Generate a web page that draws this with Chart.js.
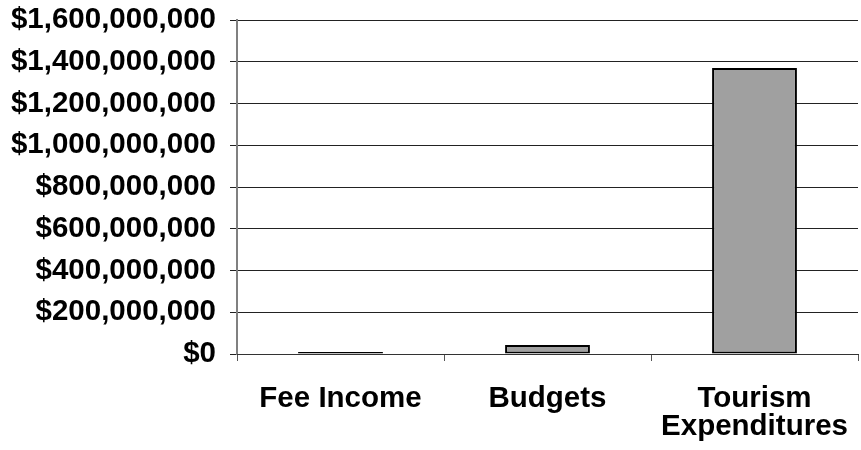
<!DOCTYPE html>
<html>
<head>
<meta charset="utf-8">
<script src="https://cdn.jsdelivr.net/npm/chart.js@4"></script>
<style>
  html, body { margin: 0; padding: 0; background: #fff; }
  #wrap { width: 861px; height: 450px; }
</style>
</head>
<body>
<div id="wrap"><canvas id="fundingChart" width="861" height="450"></canvas></div>
<script>
const categories = ["Fee Income", "Budgets", ["Tourism", "Expenditures"]];
const amounts = [9000000, 43000000, 1370000000];
const yTicks = [0, 200000000, 400000000, 600000000, 800000000, 1000000000, 1200000000, 1400000000, 1600000000];

const fontFamily = "'Liberation Sans', Arial, sans-serif";

// labels may spill past the plot edges; keep the plot box fixed anyway
const noOverflow = (scale) => {
  scale.paddingTop = 0;
  scale.paddingBottom = 0;
  scale.paddingLeft = 0;
  scale.paddingRight = 0;
};

const ctx = document.getElementById("fundingChart").getContext("2d");

new Chart(ctx, {
  type: "bar",
  data: {
    labels: categories,
    datasets: [
      {
        data: amounts,
        backgroundColor: "#a0a0a0",
        borderColor: "#000",
        borderWidth: 2,
        borderSkipped: false,
        categoryPercentage: 1,
        barPercentage: 0.41,
      },
    ],
  },
  options: {
    responsive: false,
    animation: false,
    layout: { padding: { top: 20, right: 3, left: 0, bottom: 0 } },
    plugins: {
      legend: { display: false },
      tooltip: { enabled: false },
    },
    scales: {
      y: {
        min: 0,
        max: 1600000000,
        afterBuildTicks: (scale) => {
          scale.ticks = yTicks.map(v => ({ value: v }));
        },
        afterFit: (scale) => { scale.width = 237; noOverflow(scale); },
        ticks: {
          color: "#000",
          font: { family: fontFamily, size: 29.5, weight: "bold" },
          padding: 14,
          callback: (v) => "$" + Number(v).toLocaleString("en-US"),
        },
        grid: { color: "#222", lineWidth: 1, tickLength: 7 },
        border: { color: "#808080", width: 2 },
      },
      x: {
        afterFit: (scale) => { scale.height = 96; noOverflow(scale); },
        ticks: {
          color: "#000",
          font: { family: fontFamily, size: 29.5, weight: "bold", lineHeight: "28px" },
          padding: 24,
          maxRotation: 0,
        },
        grid: { display: true, drawOnChartArea: false, offset: true, color: "#555", tickLength: 7 },
        border: { color: "#333", width: 1 },
      },
    },
  },
});
</script>
</body>
</html>
